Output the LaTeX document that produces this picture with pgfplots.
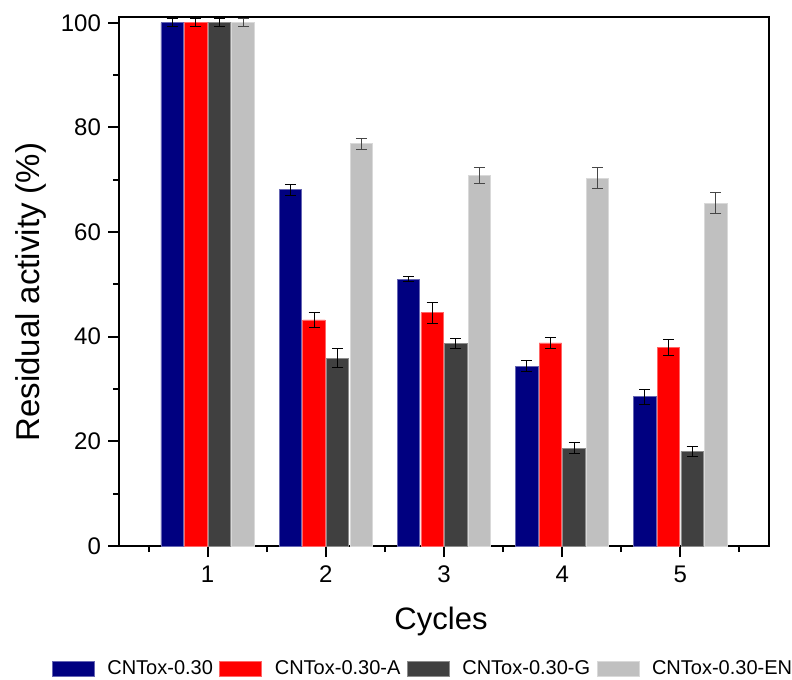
\documentclass[border=0pt]{standalone}
\usepackage{pgfplots}
\pgfplotsset{compat=1.18}
\usepackage{fontspec}
\setmainfont{Liberation Sans}
\definecolor{cnavy}{RGB}{0,0,128}
\definecolor{cred}{RGB}{255,0,0}
\definecolor{cdark}{RGB}{64,64,64}
\definecolor{clight}{RGB}{192,192,192}
\definecolor{errgray}{RGB}{70,70,70}
\begin{document}
\begin{tikzpicture}
\begin{axis}[name=ax,
  width=325pt, height=264.5pt, scale only axis,
  xmin=0.25, xmax=5.75, ymin=0, ymax=101.1,
  axis line style={line width=1pt},
  tick pos=left, tick align=outside,
  major tick length=5.5pt, minor tick length=3pt,
  every tick/.style={black, line width=1pt},
  xtick={1,2,3,4,5},
  minor xtick={0.5,1.5,2.5,3.5,4.5,5.5},
  ytick={0,20,40,60,80,100},
  minor ytick={10,30,50,70,90},
  /pgf/number format/assume math mode=true,
  ticklabel style={font=\fontsize{12}{14}\selectfont},
  xticklabel style={yshift=-1pt},
  xlabel={Cycles},
  ylabel={Residual activity (\%)},
  xlabel style={font=\fontsize{15.5}{18}\selectfont, at={(axis description cs:0.5,0)}, anchor=center, yshift=-37.5pt, xshift=-1.5pt},
  ylabel style={font=\fontsize{16.5}{19}\selectfont, at={(axis description cs:-0.1354,0.48)}, anchor=center},
  ybar, bar width=0.19,
  error bars/y dir=both, error bars/y explicit,
  error bars/error bar style={line width=0.5pt, black},
  error bars/error mark options={rotate=90, mark size=2.75pt, line width=0.5pt, black},
  legend style={at={(axis description cs:0.5,0)}, anchor=center, xshift=-11pt, yshift=-61.5pt,
    draw=none, fill=none, legend columns=4, font=\fontsize{10}{12}\selectfont,
    nodes={inner sep=0pt},
    /tikz/every even column/.append style={column sep=3.25pt},
    /tikz/every odd column/.append style={column sep=6.3pt}},
  legend cell align=left,
  legend image code/.code={\fill[#1] (0pt,-3.75pt) rectangle (21pt,3.75pt);},
]
\addplot[fill=cnavy, draw=cnavy!60!white, line width=0.4pt, bar shift=-0.3]
  coordinates {(1,100) +- (0,0.8) (2,68.1) +- (0,1.05) (3,51.0) +- (0,0.5) (4,34.4) +- (0,1.05) (5,28.5) +- (0,1.5)};
\addplot[fill=cred, draw=cred!60!white, line width=0.4pt, bar shift=-0.1]
  coordinates {(1,100) +- (0,0.8) (2,43.2) +- (0,1.4) (3,44.6) +- (0,2.0) (4,38.8) +- (0,1.0) (5,37.9) +- (0,1.5)};
\addplot[fill=cdark, draw=cdark!60!white, line width=0.4pt, bar shift=0.1]
  coordinates {(1,100) +- (0,0.8) (2,35.9) +- (0,1.8) (3,38.7) +- (0,1.0) (4,18.7) +- (0,1.0) (5,18.1) +- (0,1.0)};
\addplot[fill=clight, draw=clight!60!white, line width=0.4pt, bar shift=0.3,
  error bars/error bar style={line width=0.5pt, errgray},
  error bars/error mark options={rotate=90, mark size=2.75pt, line width=0.5pt, errgray}]
  coordinates {(1,100) +- (0,0.8) (2,76.9) +- (0,1.05) (3,70.8) +- (0,1.5) (4,70.3) +- (0,2.0) (5,65.5) +- (0,2.0)};
\legend{CNTox-0.30, CNTox-0.30-A, CNTox-0.30-G, CNTox-0.30-EN}
\end{axis}
\pgfresetboundingbox
\useasboundingbox ([shift={(-59.5pt,-66.5pt)}]ax.south west) rectangle ([shift={(11.5pt,8.5pt)}]ax.north east);
\end{tikzpicture}
\end{document}
